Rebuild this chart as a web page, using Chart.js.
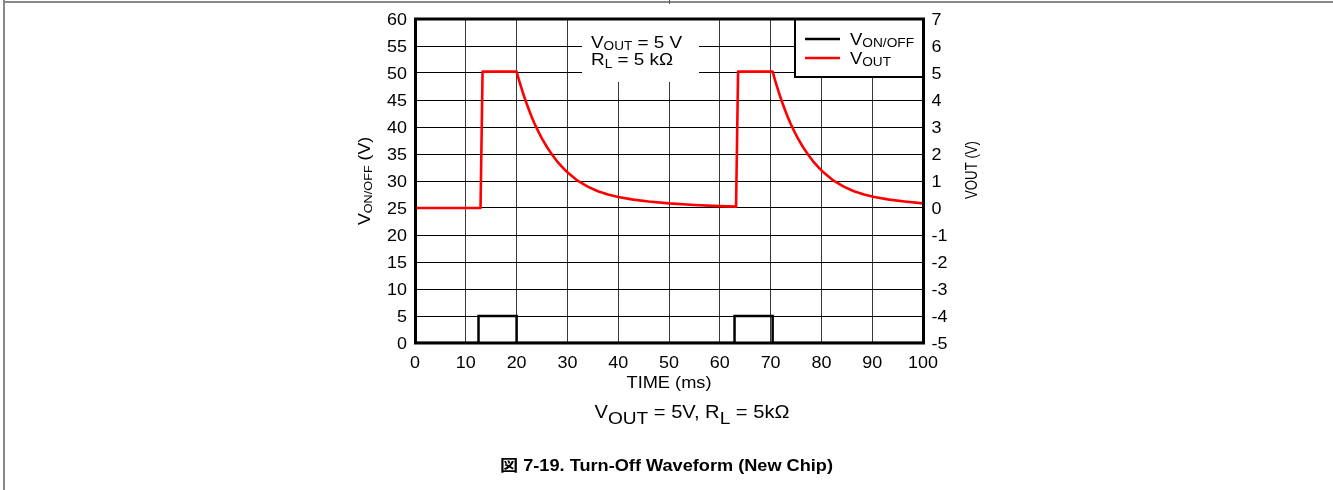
<!DOCTYPE html>
<html><head><meta charset="utf-8">
<script src="https://cdn.jsdelivr.net/npm/chart.js@4/dist/chart.umd.min.js"></script>
<style>html,body{margin:0;padding:0;background:#fff;overflow:hidden}canvas{display:block}</style>
</head><body>
<canvas id="c" width="1333" height="490"></canvas>
<script>
// ---- data ----
const xTicks = [0, 10, 20, 30, 40, 50, 60, 70, 80, 90, 100];
const leftTicks = [0, 5, 10, 15, 20, 25, 30, 35, 40, 45, 50, 55, 60];
const rightTicks = [-5, -4, -3, -2, -1, 0, 1, 2, 3, 4, 5, 6, 7];

const onoffTime  = [0, 12.5, 12.5, 20.0, 20.0, 62.9, 62.9, 70.4, 70.4, 100];
const onoffVolts = [0, 0,    5,    5,    0,    0,    5,    5,    0,    0];

const voutTime  = [0, 12.9, 13.3, 20.0, 20.5, 21, 21.5, 22, 22.5, 23, 23.5, 24, 24.5, 25, 26, 27, 28, 29, 30, 32, 34, 36, 38, 40, 43, 46, 50, 55, 60, 63.2,
                   63.6, 70.4, 70.9, 71.4, 71.9, 72.4, 72.9, 73.4, 73.9, 74.4, 74.9, 75.4, 76.4, 77.4, 78.4, 79.4, 80.4, 82.4, 84.4, 86.4, 88.4, 90.4, 93.4, 96.4, 100];
const voutVolts = [0, 0, 5.05, 5.05, 4.72, 4.41, 4.12, 3.85, 3.6, 3.36, 3.14, 2.94, 2.75, 2.57, 2.25, 1.97, 1.72, 1.51, 1.32, 1.01, 0.79, 0.62, 0.5, 0.41, 0.31, 0.24, 0.17, 0.11, 0.07, 0.05,
                   5.05, 5.05, 4.72, 4.41, 4.12, 3.85, 3.6, 3.36, 3.14, 2.94, 2.75, 2.57, 2.25, 1.97, 1.72, 1.51, 1.32, 1.01, 0.79, 0.62, 0.5, 0.41, 0.31, 0.24, 0.17];

const FONT = '"Liberation Sans", Arial, Helvetica, sans-serif';

function toPoints(xs, ys) { return xs.map((x, i) => ({ x: x, y: ys[i] })); }

// rich text: parts [{t, sub}] ; x,y = anchor on main baseline
function drawRich(ctx, parts, x, y, o) {
  const size = o.size, bold = o.bold ? 'bold ' : '';
  const subSize = size * (o.subScale || 0.7), subDy = o.subDy || size * 0.12;
  let natural = 0;
  const ws = parts.map(p => {
    ctx.font = bold + (p.sub ? subSize : size) + 'px ' + (p.cjk ? '"Noto Sans CJK JP", ' : '') + FONT;
    const w = ctx.measureText(p.t).width; natural += w; return w;
  });
  const sx = o.width ? o.width / natural : (o.sx || 1);
  ctx.save();
  ctx.translate(x, y);
  if (o.rotate) ctx.rotate(o.rotate);
  ctx.scale(sx, 1);
  let cx = o.align === 'center' ? -natural / 2 : (o.align === 'right' ? -natural : 0);
  ctx.fillStyle = o.color || '#000';
  ctx.textBaseline = 'alphabetic';
  ctx.textAlign = 'left';
  parts.forEach((p, i) => {
    ctx.font = bold + (p.sub ? subSize : size) + 'px ' + (p.cjk ? '"Noto Sans CJK JP", ' : '') + FONT;
    ctx.fillText(p.t, cx, p.sub ? subDy : 0);
    cx += ws[i];
  });
  ctx.restore();
}

const deco = {
  id: 'deco',
  beforeDatasetsDraw(chart) {
    const ctx = chart.ctx;
    ctx.save();
    ctx.fillStyle = '#fff';
    ctx.fillRect(582, 19, 117, 63);   // annotation box background
    ctx.restore();
  },
  afterDatasetsDraw(chart) {
    const ctx = chart.ctx, a = chart.chartArea;
    const sx = chart.scales.x, sl = chart.scales.yL, sr = chart.scales.yR;

    // legend box
    ctx.save();
    ctx.fillStyle = '#fff';
    ctx.fillRect(794, 19, 129, 58);
    ctx.strokeStyle = '#000'; ctx.lineWidth = 2;
    ctx.strokeRect(795, 19, 128, 58);
    ctx.lineWidth = 2.5;
    ctx.strokeStyle = '#000';
    ctx.beginPath(); ctx.moveTo(805, 39); ctx.lineTo(840, 39); ctx.stroke();
    ctx.strokeStyle = '#ff0000';
    ctx.beginPath(); ctx.moveTo(805, 58); ctx.lineTo(840, 58); ctx.stroke();
    ctx.restore();
    drawRich(ctx, [{t:'V'},{t:'ON/OFF',sub:true}], 850, 45, {size:17, width:64, subScale:0.74, subDy:1.5});
    drawRich(ctx, [{t:'V'},{t:'OUT',sub:true}], 850, 64, {size:17, width:41, subScale:0.74, subDy:1.5});

    // plot frame
    ctx.save();
    ctx.strokeStyle = '#000'; ctx.lineWidth = 3;
    ctx.strokeRect(a.left + 0.5, a.top, a.right - a.left, a.bottom - a.top);
    ctx.restore();

    // tick labels
    xTicks.forEach(v => drawRich(ctx, [{t:String(v)}], sx.getPixelForValue(v), 368, {size:16, sx:1.12, align:'center'}));
    leftTicks.forEach(v => drawRich(ctx, [{t:String(v)}], 407, sl.getPixelForValue(v) + 5.7, {size:16, sx:1.12, align:'right'}));
    rightTicks.forEach(v => drawRich(ctx, [{t:String(v)}], 931.5, sr.getPixelForValue(v) + 5.7, {size:16, sx:1.12, align:'left'}));

    // axis titles
    drawRich(ctx, [{t:'TIME (ms)'}], 669, 388, {size:16, width:85, align:'center'});
    drawRich(ctx, [{t:'V'},{t:'ON/OFF',sub:true},{t:' (V)'}], 370, 181, {size:16, width:88, align:'center', rotate:-Math.PI/2, subScale:0.72, subDy:1.5});
    drawRich(ctx, [{t:'VOUT (V)'}], 977, 170, {size:16, width:58, align:'center', rotate:-Math.PI/2});

    // annotation text
    drawRich(ctx, [{t:'V'},{t:'OUT',sub:true},{t:' = 5 V'}], 591, 48, {size:17, width:91, subScale:0.72, subDy:1.5});
    drawRich(ctx, [{t:'R'},{t:'L',sub:true},{t:' = 5 k\u03A9'}], 591, 65, {size:17, width:82, subScale:0.72, subDy:3});

    // text below chart
    drawRich(ctx, [{t:'V'},{t:'OUT',sub:true},{t:' = 5V, R'},{t:'L',sub:true},{t:' = 5k\u03A9'}], 692, 418, {size:18, width:195, align:'center', subScale:0.95, subDy:5.5});
    drawRich(ctx, [{t:'\u56F3', cjk:true},{t:' 7-19. Turn-Off Waveform (New Chip)'}], 666.5, 471, {size:16, bold:true, width:333, align:'center'});

    // page frame
    ctx.save();
    ctx.fillStyle = '#888';
    ctx.fillRect(3, 0, 2, 490);
    ctx.fillRect(3, 1, 1330, 2);
    ctx.fillStyle = '#555';
    ctx.fillRect(669, 0, 1, 4);
    ctx.restore();
  }
};

new Chart(document.getElementById('c'), {
  type: 'line',
  data: {
    datasets: [
      { label: 'VON/OFF', data: toPoints(onoffTime, onoffVolts), yAxisID: 'yL', borderColor: '#000', borderWidth: 2.5, pointRadius: 0, tension: 0, fill: false },
      { label: 'VOUT', data: toPoints(voutTime, voutVolts), yAxisID: 'yR', borderColor: '#ff0000', borderWidth: 2.6, pointRadius: 0, tension: 0, fill: false, borderJoinStyle: 'round' }
    ]
  },
  options: {
    responsive: false,
    animation: false,
    devicePixelRatio: 1,
    layout: { padding: { top: 19, left: 0, right: 0, bottom: 0 } },
    plugins: { legend: { display: false }, tooltip: { enabled: false }, title: { display: false } },
    scales: {
      x: {
        type: 'linear', min: 0, max: 100,
        ticks: { stepSize: 10, display: false },
        grid: { color: '#3a3a3a', lineWidth: 1, drawTicks: false },
        border: { display: false },
        afterFit(s) { s.height = 147; }
      },
      yL: {
        type: 'linear', position: 'left', min: 0, max: 60,
        ticks: { stepSize: 5, display: false },
        grid: { color: '#000', lineWidth: 1, drawTicks: false },
        border: { display: false },
        afterFit(s) { s.width = 415; }
      },
      yR: {
        type: 'linear', position: 'right', min: -5, max: 7,
        ticks: { stepSize: 1, display: false },
        grid: { display: false, drawTicks: false },
        border: { display: false },
        afterFit(s) { s.width = 410; }
      }
    }
  },
  plugins: [deco]
});
</script>
</body></html>
